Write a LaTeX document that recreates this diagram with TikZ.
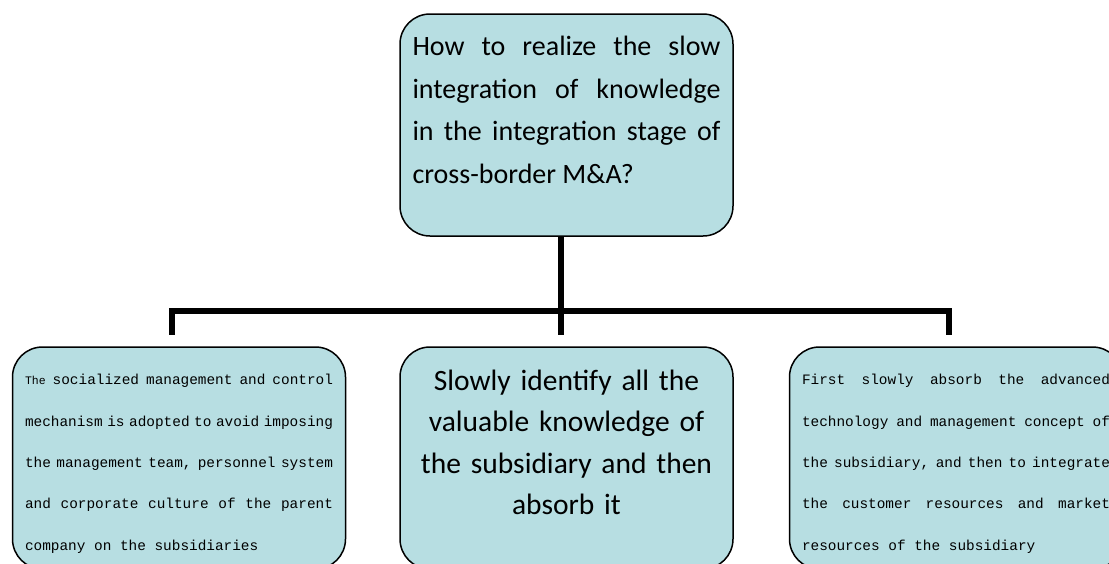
\documentclass[tikz,border=0pt]{standalone}
\usepackage{fontspec}
\setmainfont{Carlito}
\newfontfamily\simfont{Liberation Mono}

\definecolor{boxfill}{RGB}{183,222,226}

\tikzset{
  box/.style={draw=black, line width=1.5pt, fill=boxfill, rounded corners=30pt,
    minimum width=333pt, minimum height=222pt, inner xsep=12.5pt, text width=308pt},
  link/.style={line width=6.5pt},
}
% mono text with stretchable spaces for the two side boxes
\newcommand{\sidefont}{\simfont\fontsize{14.4}{41.3}\selectfont
  \spaceskip=.6em plus 2em minus .35em\relax\tolerance=10000\hyphenpenalty=10000}

\begin{document}
\begin{tikzpicture}[x=1pt,y=1pt]
  \useasboundingbox (0,0) rectangle (1109,-563);
  % question on top
  \node[box, align=justify, font=\fontsize{28}{42.5}\selectfont] (q) at (566.5,-125)
    {How to realize the slow\linebreak integration of knowledge\linebreak in the integration stage of\linebreak cross-border M\&A?\rule[-30.5pt]{0pt}{0pt}};
  % three answers
  \node[box, font=\sidefont, align=justify] (social) at (179,-458)
    {\rule{0pt}{22pt}{\fontsize{11.5}{41.3}\selectfont The} socialized management and control\linebreak mechanism is adopted to avoid imposing\linebreak the management team, personnel system\linebreak and corporate culture of the parent\linebreak company on the subsidiaries};
  \node[box, align=center, font=\fontsize{29.5}{41.3}\selectfont] (ident) at (566.5,-458)
    {Slowly identify all the\\ valuable knowledge of\\ the subsidiary and then\\ absorb it\rule[-31.5pt]{0pt}{0pt}};
  \node[box, font=\sidefont, align=justify] (absorb) at (956,-458)
    {\rule{0pt}{22pt}First slowly absorb the advanced\linebreak technology and management concept of\linebreak the subsidiary, and then to integrate\linebreak the customer resources and market\linebreak resources of the subsidiary};
  % tree connectors
  \coordinate (bar) at (561,-311);
  \draw[link] (q.south -| bar) -- (bar);
  \draw[link, shorten >=11pt] (bar) -| ([xshift=-7pt]social.north);
  \draw[link, shorten >=11pt] (bar) -| ([xshift=-7pt]absorb.north);
  \draw[link, shorten >=11pt] (bar) -- (bar |- ident.north);
\end{tikzpicture}
\end{document}
